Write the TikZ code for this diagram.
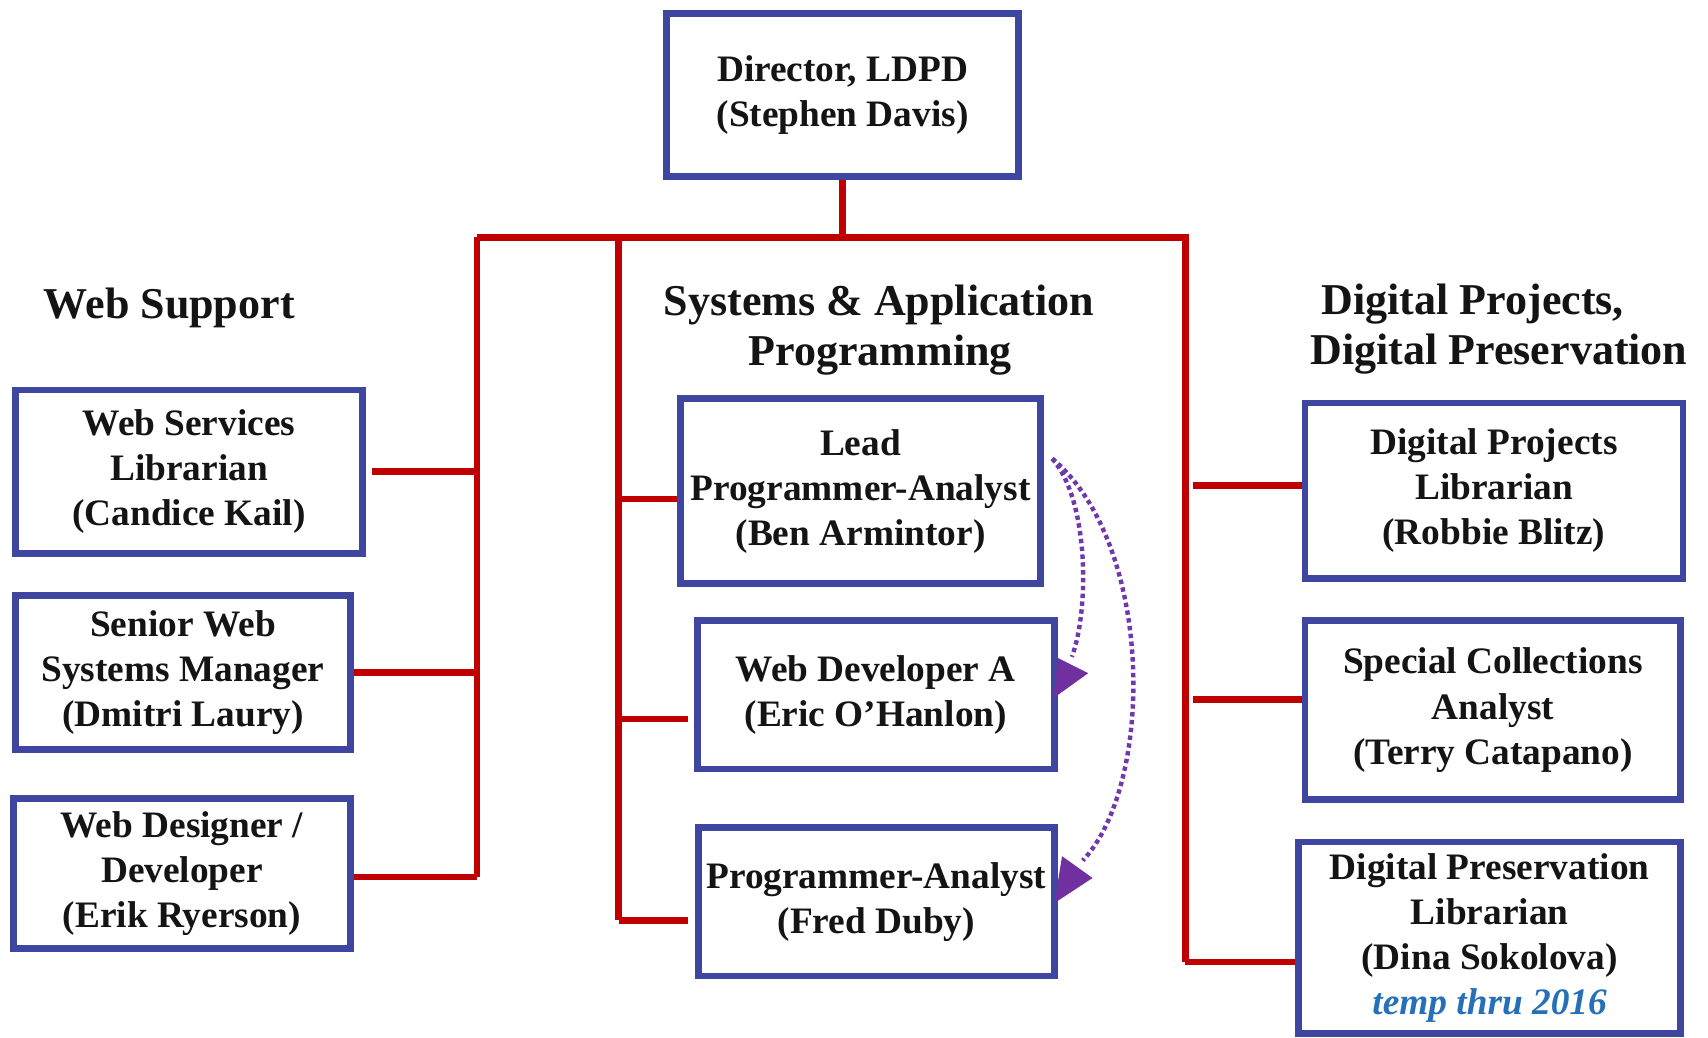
\documentclass[tikz,border=0pt]{standalone}
\usepackage{fontspec}
\setmainfont{Liberation Serif}
\definecolor{boxblue}{RGB}{62,70,160}
\definecolor{linered}{RGB}{192,0,0}
\definecolor{arrpurple}{RGB}{112,48,160}
\definecolor{dotpurple}{RGB}{112,56,170}
\definecolor{tempblue}{RGB}{38,112,184}
\definecolor{textblack}{RGB}{20,20,20}
\tikzset{
  orgbox/.style={draw=boxblue, line width=3.6pt, fill=white, inner sep=0pt, align=center,
    text=textblack, font=\bfseries\fontsize{19.5}{23.6}\selectfont},
  header/.style={inner sep=0pt, text=textblack, font=\bfseries\fontsize{23}{28}\selectfont},
  redline/.style={draw=linered, line width=3.5pt},
  dotline/.style={draw=dotpurple, line width=2.3pt, dash pattern={on 2.3pt off 1.8pt}},
  arrfill/.style={fill=arrpurple}
}
\begin{document}
\begin{tikzpicture}[x=0.2mm,y=-0.2mm]
\useasboundingbox (0,0) rectangle (1568,952);
% boxes
\node[orgbox, minimum width=64.6mm, minimum height=30mm] (dir) at (773.5,87) {Director, LDPD\\(Stephen Davis)};
\node[orgbox, minimum width=63.8mm, minimum height=30mm] (wsl) at (173.5,433) {Web Services\\Librarian\\(Candice Kail)};
\node[orgbox, minimum width=61.6mm, minimum height=28.2mm] (swsm) at (168,617.5) {Senior Web\\Systems Manager\\(Dmitri Laury)};
\node[orgbox, minimum width=62mm, minimum height=27.6mm] (wdd) at (167,802) {Web Designer /\\Developer\\(Erik Ryerson)};
\node[orgbox, minimum width=66mm, minimum height=34mm] (lpa) at (790,451) {Lead\\Programmer-Analyst\\(Ben Armintor)};
\node[orgbox, minimum width=65.6mm, minimum height=27.2mm] (wda) at (804,638) {Web Developer A\\(Eric O'Hanlon)};
\node[orgbox, minimum width=65.4mm, minimum height=27.2mm] (pa) at (804.5,828) {Programmer-Analyst\\(Fred Duby)};
\node[orgbox, minimum width=69.4mm, minimum height=32.2mm] (dpl) at (1371.5,450.5) {Digital Projects\\Librarian\\(Robbie Blitz)};
\node[orgbox, minimum width=69mm, minimum height=32.8mm] (sca) at (1370.5,652) {Special Collections\\Analyst\\(Terry Catapano)};
\node[orgbox, minimum width=70.2mm, minimum height=35.2mm] (dpres) at (1367.5,861) {Digital Preservation\\Librarian\\(Dina Sokolova)\\{\color{tempblue}\itshape temp thru 2016}};
% headers
\node[header, anchor=west] (hws) at (40,283) {Web Support};
\node[header] (hsa1) at (807,280) {Systems \& Application};
\node[header] (hsa2) at (808,326) {Programming};
\node[header] (hdp1) at (1352,279) {Digital Projects,};
\node[header] (hdp2) at (1376,325) {Digital Preservation};
% bus coordinates
\coordinate (busL) at (438,218);
\coordinate (busM) at (568,218);
\coordinate (busR) at (1088,218);
\coordinate (busD) at (773.5,218);
\coordinate (endL) at (438,805);
\coordinate (endM) at (568,845);
\coordinate (endR) at (1088,883);
\coordinate (mwda) at (632,660);
\coordinate (mpa) at (632,845);
\coordinate (rdpl) at (1095,446);
\coordinate (rsca) at (1095,642);
% connectors
\draw[redline] (dir.south) -- (busD);
\draw[redline] (busL) -- (busR) -- (endR);
\draw[redline] (busL) -- (endL);
\draw[redline] (busM) -- (endM);
\draw[redline] ([xshift=1mm]wsl.east) -- (wsl.east -| busL);
\draw[redline] (swsm.east) -- (swsm.east -| busL);
\draw[redline] (wdd.east |- endL) -- (endL);
\draw[redline] (lpa.west |- 0,458) -- (busM |- 0,458);
\draw[redline] (mwda) -- (busM |- mwda);
\draw[redline] (mpa) -- (endM);
\draw[redline] (rdpl) -- (dpl.west |- rdpl);
\draw[redline] (rsca) -- (sca.west |- rsca);
\draw[redline] (endR) -- (dpres.west |- endR);
% dotted arrows
\coordinate (arrS) at (966,421);
\coordinate (arrE1) at (984,603);
\coordinate (arrE2) at (994,790);
\draw[dotline] (arrS) .. controls (1000,460) and (1000,560) .. (arrE1);
\draw[dotline] (arrS) .. controls (1060,500) and (1060,720) .. (arrE2);
\fill[arrfill] (971,604) -- (999,618) -- (967,641) -- cycle;
\fill[arrfill] (975,786) -- (1003,806) -- (968,829) -- cycle;
\end{tikzpicture}
\end{document}
